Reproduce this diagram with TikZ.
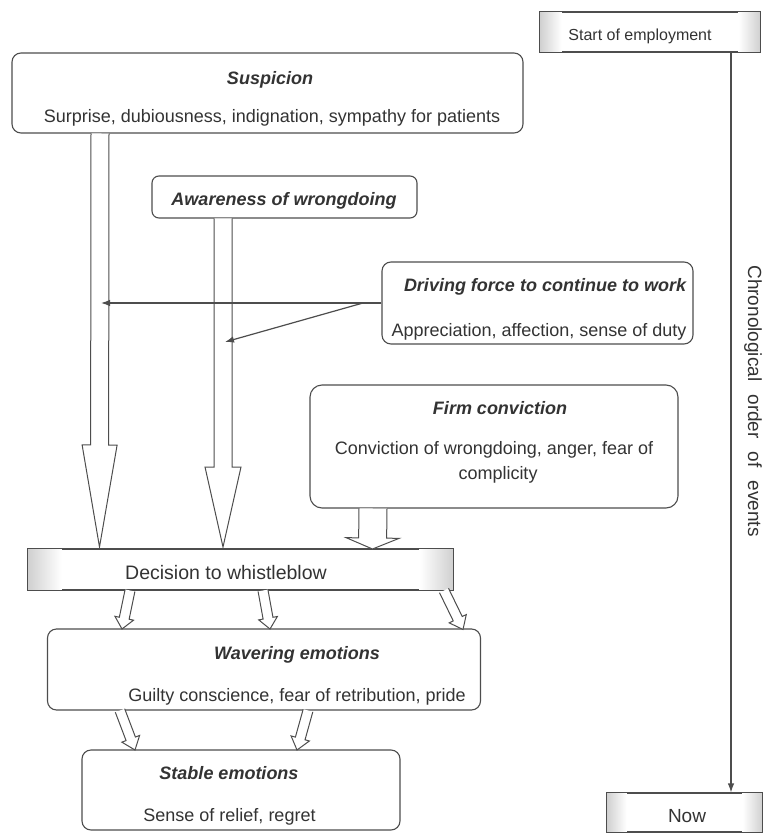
\documentclass[tikz,border=0pt]{standalone}
\usepackage{fontspec}
\setmainfont{Liberation Sans}
\usetikzlibrary{calc,arrows.meta}
\definecolor{ln}{HTML}{4D4D4D}
\definecolor{tx}{HTML}{333333}
\definecolor{spk}{HTML}{CFCFCF}
% #1 start, #2 tip, #3 shaft half width, #4 head half width, #5 head length
\newcommand\blockarrow[5]{%
  \coordinate (bah) at ($(#2)!#5!(#1)$);
  \filldraw[blk] ($(#1)!#3!90:(#2)$) -- ($(bah)!#3!90:(#2)$) -- ($(bah)!#4!90:(#2)$)
     -- (#2) -- ($(bah)!#4!-90:(#2)$) -- ($(bah)!#3!-90:(#2)$) -- ($(#1)!#3!-90:(#2)$);
}
\begin{document}
\begin{tikzpicture}[x=1pt,y=-1pt,
  font=\fontsize{18}{22}\selectfont,
  rbox/.style={draw=ln, line width=1.1pt, rounded corners=9pt, fill=white, inner sep=0pt},
  sbox/.style={draw=ln, line width=1.1pt, inner sep=0pt},
  ttl/.style={font=\fontsize{18}{22}\selectfont\bfseries\itshape, text=tx, anchor=base, inner sep=0pt},
  bdy/.style={text=tx, anchor=base, inner sep=0pt},
  blk/.style={draw=ln, line width=1pt, fill=white, line join=miter},
  conn/.style={draw=ln, line width=1.2pt, -{Latex[length=9pt,width=6.5pt]}}]
\useasboundingbox (0,0) rectangle (764,834);

% ---- boxes ----
\node[rbox, minimum width=511pt, minimum height=80pt] (susp) at (267.5,93) {};
\node[rbox, minimum width=265pt, minimum height=42pt, rounded corners=7pt] (aware) at (284.5,197) {};
\node[rbox, minimum width=311pt, minimum height=82pt] (drive) at (537.5,303) {};
\node[rbox, minimum width=368pt, minimum height=123pt, rounded corners=12pt] (firm) at (494,446.5) {};
\node[rbox, minimum width=433pt, minimum height=81pt] (waver) at (264,669.5) {};
\node[rbox, minimum width=318pt, minimum height=80pt] (stable) at (241,790) {};

% shaded boxes
\node[sbox, minimum width=220pt, minimum height=40pt] (start) at (650,32) {};
\node[sbox, minimum width=425pt, minimum height=41pt] (decide) at (240.5,569.5) {};
\node[sbox, minimum width=155pt, minimum height=39pt] (now) at (684.5,812.5) {};
\foreach \b/\w in {start/22, decide/34, now/20}{
  \shade[left color=spk, right color=white] (\b.south west) rectangle ($(\b.north west)+(\w,0)$);
  \shade[left color=white, right color=spk] ($(\b.south east)+(-\w,0)$) rectangle (\b.north east);
  \draw[ln, line width=1.1pt] (\b.south west) rectangle (\b.north east);
}

% ---- texts ----
\node[ttl] at (270,84.5) {Suspicion};
\node[bdy] at (272,122.5) {Surprise, dubiousness, indignation, sympathy for patients};
\node[ttl] at (284,205.5) {Awareness of wrongdoing};
\node[ttl] at (545,291.5) {Driving force to continue to work};
\node[bdy] at (539,336.5) {Appreciation, affection, sense of duty};
\node[ttl] at (500,414.5) {Firm conviction};
\node[bdy] at (494,454.5) {Conviction of wrongdoing, anger, fear of};
\node[bdy] at (498,479.5) {complicity};
\node[bdy, font=\fontsize{19.5}{23}\selectfont] at (226,579.5) {Decision to whistleblow};
\node[ttl] at (297,659.5) {Wavering emotions};
\node[bdy] at (297,701.5) {Guilty conscience, fear of retribution, pride};
\node[ttl] at (229,779.5) {Stable emotions};
\node[bdy] at (229.5,821.5) {Sense of relief, regret};
\node[bdy, font=\fontsize{16}{20}\selectfont] at (640,41) {Start of employment};
\node[bdy, font=\fontsize{19}{23}\selectfont] at (687,822) {Now};
\node[text=tx, rotate=-90, inner sep=0pt, font=\fontsize{19}{23}\selectfont] (chrono) at (753,401)
  {Chronological\hspace{13pt}order\hspace{13pt}of\hspace{13pt}events};

% ---- block arrows ----
\coordinate (a1s) at (100,133.5);  \coordinate (a1t) at (99.5,547);
\coordinate (a2s) at (223,218.5);  \coordinate (a2t) at (223,547);
\coordinate (a3s) at (373,508.5);  \coordinate (a3t) at (372.5,549);
\coordinate (a4s) at (130,590.5);  \coordinate (a4t) at (122,629);
\coordinate (a5s) at (263,590.5);  \coordinate (a5t) at (270,629);
\coordinate (a6s) at (444,590.5);  \coordinate (a6t) at (463,629.5);
\coordinate (a7s) at (120,710.5);  \coordinate (a7t) at (135,750);
\coordinate (a8s) at (308,710.5);  \coordinate (a8t) at (297,750);
\blockarrow{a1s}{a1t}{9pt}{17.5pt}{102pt}
\blockarrow{a2s}{a2t}{9pt}{18pt}{80pt}
\blockarrow{a3s}{a3t}{14pt}{26.5pt}{11pt}
\blockarrow{a4s}{a4t}{5pt}{9.5pt}{11pt}
\blockarrow{a5s}{a5t}{5pt}{9.5pt}{11pt}
\blockarrow{a6s}{a6t}{5pt}{9.5pt}{12pt}
\blockarrow{a7s}{a7t}{5pt}{9.5pt}{12pt}
\blockarrow{a8s}{a8t}{5pt}{9.5pt}{12pt}

% ---- connectors ----
\coordinate (tipA) at (101,303);
\coordinate (br) at (363,303);
\coordinate (tipB) at (225,342);
\draw[conn] (drive.west) -- (tipA);
\draw[conn] (br) -- (tipB);

% timeline
\coordinate (tlx) at (731,0);
\draw[conn] (start.south -| tlx) -- (now.north -| tlx);
\end{tikzpicture}
\end{document}
